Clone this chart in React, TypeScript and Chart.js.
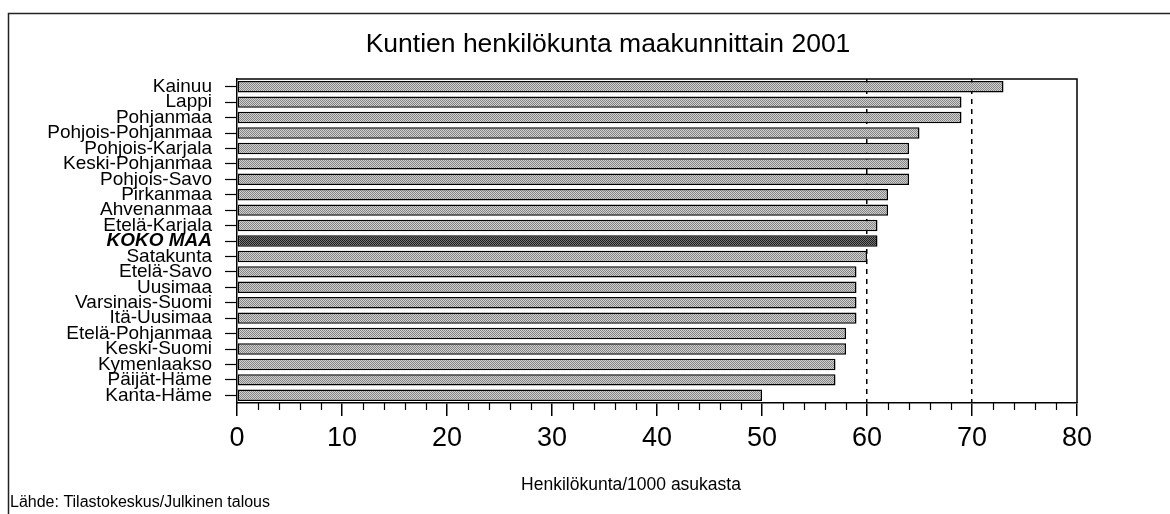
import { useEffect, useRef } from 'react';
import { Chart, registerables } from 'chart.js';

Chart.register(...registerables);

const TITLE = 'Kuntien henkilökunta maakunnittain 2001';
const X_TITLE = 'Henkilökunta/1000 asukasta';
const SOURCE = 'Lähde: Tilastokeskus/Julkinen talous';

const regions = [
  'Kainuu',
  'Lappi',
  'Pohjanmaa',
  'Pohjois-Pohjanmaa',
  'Pohjois-Karjala',
  'Keski-Pohjanmaa',
  'Pohjois-Savo',
  'Pirkanmaa',
  'Ahvenanmaa',
  'Etelä-Karjala',
  'KOKO MAA',
  'Satakunta',
  'Etelä-Savo',
  'Uusimaa',
  'Varsinais-Suomi',
  'Itä-Uusimaa',
  'Etelä-Pohjanmaa',
  'Keski-Suomi',
  'Kymenlaakso',
  'Päijät-Häme',
  'Kanta-Häme',
];

const staffPer1000 = [73, 69, 69, 65, 64, 64, 64, 62, 62, 61, 61, 60, 59, 59, 59, 59, 58, 58, 57, 57, 50];

const HIGHLIGHT = 'KOKO MAA';
const X_MIN = 0;
const X_MAX = 80;
const MAJOR_STEP = 10;
const MINOR_STEP = 2;
const REF_LINES = [60, 70];

const FONT = '"Liberation Sans", Arial, Helvetica, sans-serif';

function makePattern(base: string, dot: string): CanvasPattern | string {
  const c = document.createElement('canvas');
  c.width = 2;
  c.height = 2;
  const g = c.getContext('2d');
  if (!g) return base;
  g.fillStyle = base;
  g.fillRect(0, 0, 2, 2);
  g.fillStyle = dot;
  g.fillRect(0, 0, 1, 1);
  g.fillRect(1, 1, 1, 1);
  return g.createPattern(c, 'repeat') || base;
}

const decor = {
  id: 'decor',
  afterDraw(chart: any) {
    const { ctx, chartArea: a, scales } = chart;
    ctx.save();
    ctx.strokeStyle = '#000';
    ctx.lineWidth = 1.5;
    // plot box top & right
    ctx.beginPath();
    ctx.moveTo(a.left, a.top);
    ctx.lineTo(a.right, a.top);
    ctx.lineTo(a.right, a.bottom);
    ctx.stroke();
    // minor ticks
    const xs = scales.x;
    ctx.lineWidth = 1.2;
    ctx.beginPath();
    for (let v = X_MIN; v <= X_MAX; v += MINOR_STEP) {
      if (v % MAJOR_STEP === 0) continue;
      const px = Math.round(xs.getPixelForValue(v)) + 0.5;
      ctx.moveTo(px, a.bottom);
      ctx.lineTo(px, a.bottom + 7);
    }
    ctx.stroke();
    // outer frame
    ctx.strokeStyle = '#222';
    ctx.lineWidth = 1.5;
    ctx.beginPath();
    ctx.moveTo(8.5, 514);
    ctx.lineTo(8.5, 13.5);
    ctx.lineTo(1170, 13.5);
    ctx.stroke();
    // texts
    ctx.fillStyle = '#000';
    ctx.textBaseline = 'middle';
    ctx.textAlign = 'center';
    ctx.font = `26.5px ${FONT}`;
    ctx.fillText(TITLE, 608, 45);
    ctx.font = `17.5px ${FONT}`;
    ctx.fillText(X_TITLE, 631, 485);
    ctx.textAlign = 'left';
    ctx.font = `16px ${FONT}`;
    ctx.fillText(SOURCE, 10, 503);
    ctx.restore();
  },
};

export default function App() {
  const ref = useRef<HTMLCanvasElement | null>(null);

  useEffect(() => {
    if (!ref.current) return;
    const light = makePattern('#d0d0d0', '#858585');
    const dark = makePattern('#777777', '#1e1e1e');
    const colors = regions.map((r) => (r === HIGHLIGHT ? dark : light));

    const chart = new Chart(ref.current, {
      type: 'bar',
      data: {
        labels: regions,
        datasets: [
          {
            data: staffPer1000,
            backgroundColor: colors as any,
            borderColor: '#000',
            borderWidth: 1.5,
            borderSkipped: false,
            categoryPercentage: 1,
            barPercentage: 0.74,
          },
        ],
      },
      options: {
        indexAxis: 'y',
        responsive: false,
        animation: false,
        layout: { padding: { left: 9, right: 93, top: 79, bottom: 0 } },
        plugins: {
          legend: { display: false },
          tooltip: { enabled: false },
          title: { display: false },
        },
        scales: {
          x: {
            type: 'linear',
            min: X_MIN,
            max: X_MAX,
            afterFit: (s: any) => {
              s.height = 111;
            },
            ticks: {
              stepSize: MAJOR_STEP,
              color: '#000',
              padding: 6,
              font: { family: FONT, size: 27 },
            },
            grid: {
              drawOnChartArea: true,
              drawTicks: true,
              tickLength: 13,
              tickColor: '#000',
              tickWidth: 1.5,
              lineWidth: 1.5,
              color: (ctx: any) =>
                ctx.tick && REF_LINES.includes(ctx.tick.value) ? '#000' : 'rgba(0,0,0,0)',
            },
            border: { display: true, color: '#000', width: 1.5, dash: [5, 5] },
          },
          y: {
            type: 'category',
            afterFit: (s: any) => {
              s.width = 228;
            },
            ticks: {
              autoSkip: false,
              color: '#000',
              padding: 13,
              font: (ctx: any) => {
                const lab = regions[ctx.index];
                return lab === HIGHLIGHT
                  ? { family: FONT, size: 19, weight: 'bold', style: 'italic' }
                  : { family: FONT, size: 19 };
              },
            },
            grid: {
              offset: false,
              drawOnChartArea: false,
              drawTicks: true,
              tickLength: 12,
              tickColor: '#000',
              tickWidth: 1.2,
              color: '#000',
            },
            border: { display: true, color: '#000', width: 1.5 },
          },
        },
      },
      plugins: [decor],
    });

    return () => chart.destroy();
  }, []);

  return (
    <div style={{ position: 'fixed', left: 0, top: 0, width: 1170, height: 514, background: '#fff' }}>
      <canvas ref={ref} width={1170} height={514} style={{ display: 'block' }} />
    </div>
  );
}
